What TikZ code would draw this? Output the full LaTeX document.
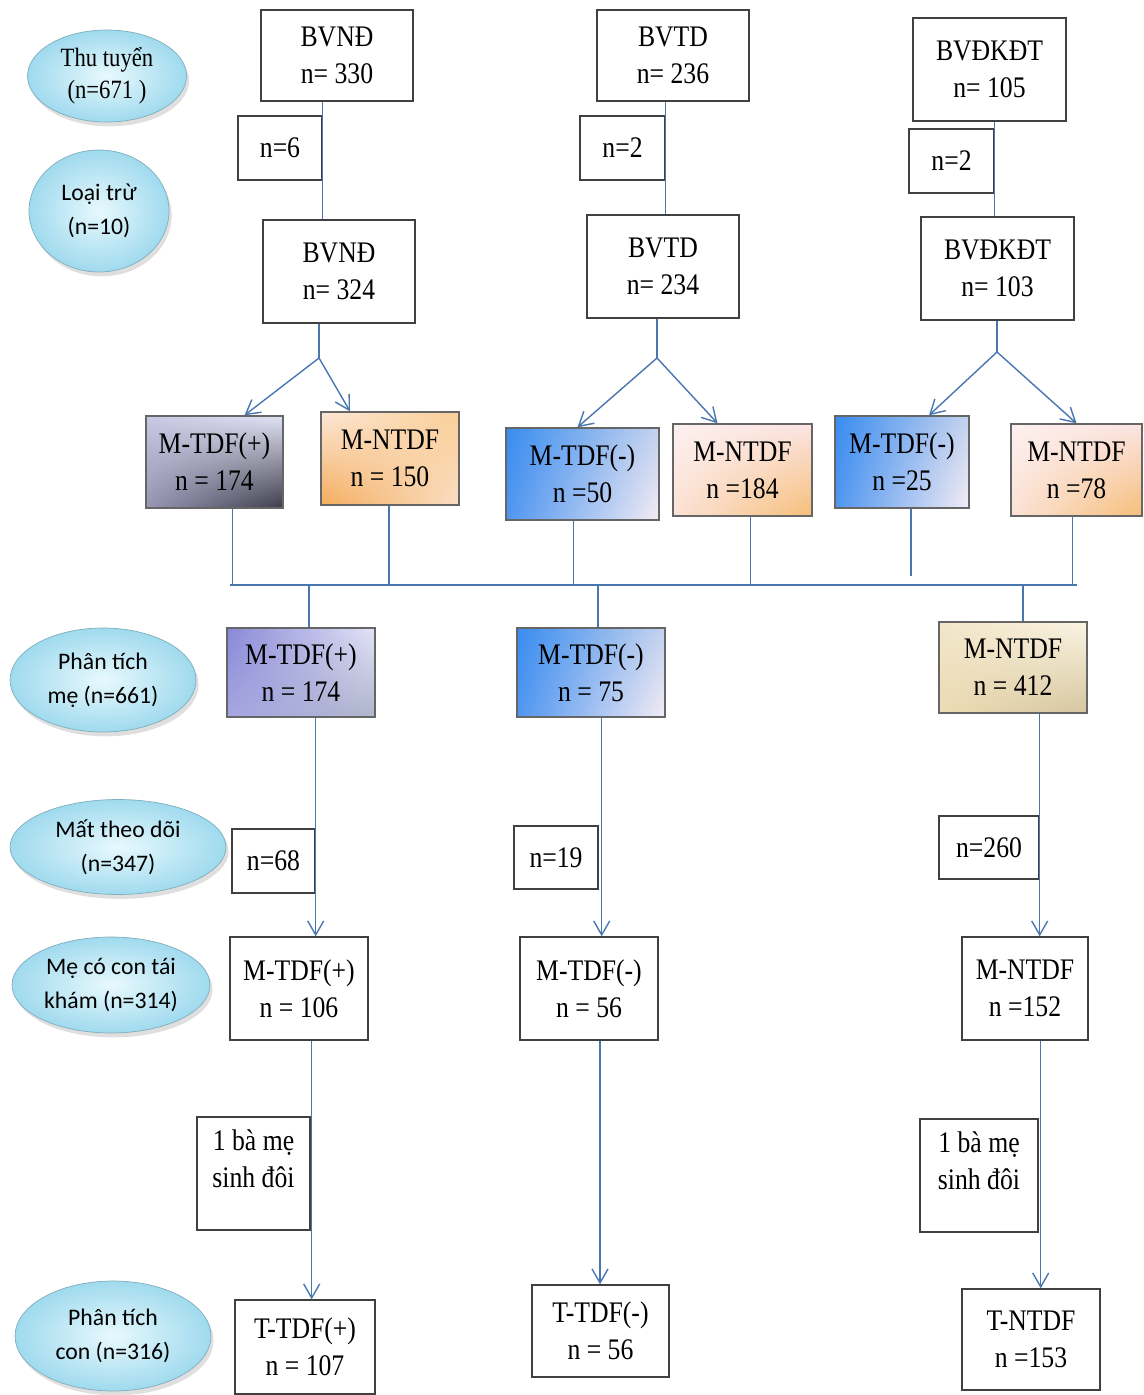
\documentclass[tikz,border=0pt]{standalone}
\usepackage{fontspec}
\setmainfont{Liberation Serif}[FakeStretch=0.86]
\newfontfamily\calfont{Carlito}
\usetikzlibrary{arrows.meta,shapes.geometric,shadows,shadings,calc}
\definecolor{linkblue}{RGB}{74,118,176}
\definecolor{ovalin}{RGB}{232,249,253}
\definecolor{ovalout}{RGB}{160,218,238}
\definecolor{gpUL}{RGB}{200,200,226}
\definecolor{gpUR}{RGB}{226,226,246}
\definecolor{gpLL}{RGB}{150,150,180}
\definecolor{gpLR}{RGB}{60,60,72}
\definecolor{orUL}{RGB}{252,232,216}
\definecolor{orUR}{RGB}{250,206,150}
\definecolor{orLL}{RGB}{244,172,92}
\definecolor{orLR}{RGB}{250,222,196}
\definecolor{pcUL}{RGB}{253,240,240}
\definecolor{pcUR}{RGB}{251,228,226}
\definecolor{pcLL}{RGB}{251,226,214}
\definecolor{pcLR}{RGB}{246,190,120}
\definecolor{blUL}{RGB}{56,140,240}
\definecolor{blUR}{RGB}{196,210,238}
\definecolor{blLL}{RGB}{80,150,240}
\definecolor{blLR}{RGB}{244,236,244}
\definecolor{viUL}{RGB}{136,136,216}
\definecolor{viUR}{RGB}{228,228,246}
\definecolor{viLL}{RGB}{166,166,226}
\definecolor{viLR}{RGB}{176,182,204}
\definecolor{beUL}{RGB}{242,230,202}
\definecolor{beUR}{RGB}{250,244,226}
\definecolor{beLL}{RGB}{236,220,180}
\definecolor{beLR}{RGB}{214,198,160}
\tikzset{
    box/.style={draw=black!75,line width=0.8pt,fill=white,align=center,inner sep=2pt,
        font=\fontsize{17}{21}\selectfont},
    gbox/.style={box,draw=black!60},
    oval/.style={ellipse,draw=ovalout!80!black,line width=0.4pt,shading=radial,inner color=ovalin,
        outer color=ovalout,align=center,inner sep=0pt,
        drop shadow={opacity=0.25,shadow xshift=1.5pt,shadow yshift=-2.5pt},
        font=\calfont\fontsize{13.5}{19.5}\selectfont},
    link/.style={draw=linkblue,line width=0.8pt},
    arr/.style={link,-{Straight Barb[length=2.8mm,width=3.2mm]}}
}
\begin{document}
\begin{tikzpicture}[x=0.02cm,y=-0.02cm,
        greyPlus/.style={gbox,upper left=gpUL,upper right=gpUR,lower left=gpLL,lower right=gpLR},
        orange/.style={gbox,upper left=orUL,upper right=orUR,lower left=orLL,lower right=orLR},
        peach/.style={gbox,upper left=pcUL,upper right=pcUR,lower left=pcLL,lower right=pcLR},
        blueNeg/.style={gbox,upper left=blUL,upper right=blUR,lower left=blLL,lower right=blLR},
        violet/.style={gbox,upper left=viUL,upper right=viUR,lower left=viLL,lower right=viLR},
        beige/.style={gbox,upper left=beUL,upper right=beUR,lower left=beLL,lower right=beLR}]
                \useasboundingbox (0,0) rectangle (1143,1395);
                \node[oval,font=\fontsize{15}{18}\selectfont,minimum width=3.18cm,minimum height=1.84cm] (thu) at (107,76) {Thu tuyển\\(n=671 )};
                \node[oval,minimum width=2.8cm,minimum height=2.44cm] (loai) at (99,211) {Loại trừ\\(n=10)};
                \node[oval,minimum width=3.72cm,minimum height=2.08cm] (ptMe) at (103,680) {Phân tích\\mẹ (n=661)};
                \node[oval,minimum width=4.32cm,minimum height=1.9cm] (mat) at (118,847) {Mất theo dõi\\(n=347)};
                \node[oval,minimum width=3.96cm,minimum height=1.92cm] (taiKham) at (111,985) {Mẹ có con tái\\khám (n=314)};
                \node[oval,minimum width=3.92cm,minimum height=2.2cm] (ptCon) at (113,1336) {Phân tích\\con (n=316)};

                \node[box,minimum width=3.04cm,minimum height=1.82cm] (nd1) at (337,55.5) {BVNĐ\\n= 330};
                \node[box,minimum width=3.04cm,minimum height=1.82cm] (td1) at (673,55.5) {BVTD\\n= 236};
                \node[box,minimum width=3.06cm,minimum height=2.06cm] (dk1) at (989.5,69.5) {BVĐKĐT\\n= 105};
                \node[box,minimum width=1.68cm,minimum height=1.28cm] (ndEx) at (280,148) {n=6};
                \node[box,minimum width=1.7cm,minimum height=1.28cm] (tdEx) at (622.5,148) {n=2};
                \node[box,minimum width=1.7cm,minimum height=1.28cm] (dkEx) at (951.5,161) {n=2};
                \node[box,minimum width=3.04cm,minimum height=2.06cm] (nd2) at (339,271.5) {BVNĐ\\n= 324};
                \node[box,minimum width=3.04cm,minimum height=2.06cm] (td2) at (663,266.5) {BVTD\\n= 234};
                \node[box,minimum width=3.06cm,minimum height=2.06cm] (dk2) at (997.5,268.5) {BVĐKĐT\\n= 103};

                \node[greyPlus,minimum width=2.74cm,minimum height=1.84cm] (ndPos) at (214.5,462) {M-TDF(+)\\n = 174};
                \node[orange,minimum width=2.76cm,minimum height=1.86cm] (ndNt) at (390,458.5) {M-NTDF\\n = 150};
                \node[blueNeg,minimum width=3.06cm,minimum height=1.84cm] (tdNeg) at (582.5,474) {M-TDF(-)\\n =50};
                \node[peach,minimum width=2.78cm,minimum height=1.84cm] (tdNt) at (742.5,470) {M-NTDF\\n =184};
                \node[blueNeg,minimum width=2.68cm,minimum height=1.84cm] (dkNeg) at (902,462) {M-TDF(-)\\n =25};
                \node[peach,minimum width=2.62cm,minimum height=1.84cm] (dkNt) at (1076.5,470) {M-NTDF\\n =78};

                \node[violet,minimum width=2.96cm,minimum height=1.78cm] (mePos) at (301,672.5) {M-TDF(+)\\n = 174};
                \node[blueNeg,minimum width=2.96cm,minimum height=1.78cm] (meNeg) at (591,672.5) {M-TDF(-)\\n = 75};
                \node[beige,minimum width=2.96cm,minimum height=1.82cm] (meNt) at (1013,667.5) {M-NTDF\\n = 412};
                \node[box,minimum width=1.66cm,minimum height=1.28cm] (posEx) at (273.5,861) {n=68};
                \node[box,minimum width=1.68cm,minimum height=1.26cm] (negEx) at (556,857.5) {n=19};
                \node[box,minimum width=2cm,minimum height=1.26cm] (ntEx) at (989,847.5) {n=260};

                \node[box,minimum width=2.76cm,minimum height=2.06cm] (khPos) at (299,988.5) {M-TDF(+)\\n = 106};
                \node[box,minimum width=2.76cm,minimum height=2.06cm] (khNeg) at (589,988.5) {M-TDF(-)\\n = 56};
                \node[box,minimum width=2.52cm,minimum height=2.06cm] (khNt) at (1025,988.5) {M-NTDF\\n =152};
                \node[box,minimum width=2.26cm,minimum height=2.26cm] (posTwin) at (253.5,1173.5) {1 bà mẹ\\sinh đôi\\[-4pt]\mbox{}};
                \node[box,minimum width=2.36cm,minimum height=2.26cm] (ntTwin) at (979,1175.5) {1 bà mẹ\\sinh đôi\\[-4pt]\mbox{}};

                \node[box,minimum width=2.8cm,minimum height=1.88cm] (conPos) at (305,1347) {T-TDF(+)\\n = 107};
                \node[box,minimum width=2.74cm,minimum height=1.84cm] (conNeg) at (600.5,1331) {T-TDF(-)\\n = 56};
                \node[box,minimum width=2.76cm,minimum height=2.02cm] (conNt) at (1031,1339.5) {T-NTDF\\n =153};

                \draw[link] (nd1.south -| ndEx.east) -- (nd2.north -| ndEx.east);
                \draw[link] (td1.south -| tdEx.east) -- (td2.north -| tdEx.east);
                \draw[link] (dk1.south -| dkEx.east) -- (dk2.north -| dkEx.east);

                \coordinate (ndSplit) at (319,358);
                \coordinate (tdSplit) at (657,358);
                \coordinate (dkSplit) at (997,352);
                \draw[link] (nd2.south -| ndSplit) -- (ndSplit);
                \draw[link] (td2.south -| tdSplit) -- (tdSplit);
                \draw[link] (dk2.south -| dkSplit) -- (dkSplit);
                \draw[arr] (ndSplit) -- ($(ndPos.north)+(30,0)$);
                \draw[arr] (ndSplit) -- ($(ndNt.north)+(-40,0)$);
                \draw[arr] (tdSplit) -- ($(tdNeg.north)+(-5,0)$);
                \draw[arr] (tdSplit) -- ($(tdNt.north)+(-25,0)$);
                \draw[arr] (dkSplit) -- ($(dkNeg.north)+(27,0)$);
                \draw[arr] (dkSplit) -- (dkNt.north);

                \coordinate (busL) at (230,585);
                \coordinate (busR) at (1077,585);
                \draw[link] (busL) -- (busR);
                \draw[link] ($(ndPos.south)+(18,0)$) -- ++(0,77);
                \draw[link] ($(ndNt.south)+(-1,0)$) -- ++(0,80);
                \draw[link] ($(tdNeg.south)+(-9,0)$) -- ++(0,65);
                \draw[link] ($(tdNt.south)+(8,0)$) -- ++(0,69);
                \draw[link] ($(dkNeg.south)+(9,0)$) -- ++(0,67);
                \draw[link] ($(dkNt.south)+(-4,0)$) -- ++(0,69);
                \draw[link] (busL -| mePos.north) ++(8,0) -- ($(mePos.north)+(8,0)$);
                \draw[link] (busL -| meNeg.north) ++(7,0) -- ($(meNeg.north)+(7,0)$);
                \draw[link] (busL -| meNt.north) ++(10,0) -- ($(meNt.north)+(10,0)$);

                \draw[arr] (mePos.south -| posEx.east) -- (khPos.north -| posEx.east);
                \draw[arr] (meNeg.south -| negEx.east) ++(3,0) -- ($(khNeg.north -| negEx.east)+(3,0)$);
                \draw[arr] (meNt.south -| ntEx.east) -- (khNt.north -| ntEx.east);

                \draw[arr] (khPos.south -| posTwin.east) ++(1,0) -- ($(conPos.north -| posTwin.east)+(1,0)$);
                \draw[arr] ($(khNeg.south)+(11,0)$) -- ($(conNeg.north)+(-0.5,0)$);
                \draw[arr] (khNt.south -| ntTwin.east) ++(2,0) -- ($(conNt.north -| ntTwin.east)+(2,0)$);
\end{tikzpicture}
\end{document}
